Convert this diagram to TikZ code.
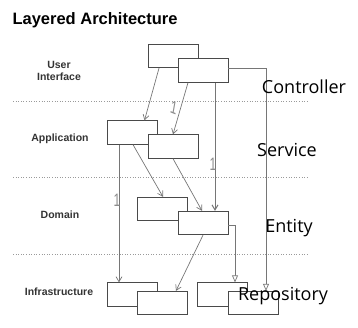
\documentclass[tikz,border=0pt]{standalone}
\usepackage{fontspec}
\setmainfont{Liberation Sans}
\newfontfamily\handfont{Open Sans}
\usepackage{tikz}
\usetikzlibrary{calc,arrows.meta,positioning}
\definecolor{la-box}{HTML}{4A4A4A}
\definecolor{la-line}{HTML}{767676}
\definecolor{la-dots}{HTML}{9A9A9A}

\tikzset{
    classbox/.style={draw=la-box, fill=white, line width=0.8pt, minimum width=50pt, minimum height=23.5pt, inner sep=0pt},
    layername/.style={font=\bfseries\fontsize{10.5}{12}\selectfont, text=black!80, align=center},
    handlabel/.style={font=\handfont\fontsize{18}{19}\selectfont, text=black},
    mult/.style={font=\fontsize{12}{12}\selectfont, text=black!45, yscale=1.5},
    uses/.style={draw=la-line, line width=0.7pt, -{Straight Barb[length=5pt,width=6pt]}},
    realizes/.style={draw=la-line, line width=0.7pt, -{Triangle[open,length=7pt,width=6pt,fill=white]}},
    layerline/.style={draw=la-dots, line width=0.6pt, dotted}
}

\begin{document}
\begin{tikzpicture}[x=1pt, y=-1pt]
    \useasboundingbox (0,0) rectangle (358,328);
    \node[anchor=west, font=\bfseries\fontsize{16.5}{18}\selectfont] (title) at (9,20) {Layered Architecture};

    % layer separators
    \foreach \ly in {101,177,254}
        \draw[layerline] (13,\ly) -- (308,\ly);

    % layer names
    \node[layername] (lui) at (59,71) {User\\Interface};
    \node[layername] (lapp) at (60,139) {Application};
    \node[layername] (ldom) at (60,215) {Domain};
    \node[layername] (linf) at (59,292) {Infrastructure};

    % classes
    \node[classbox] (ui1) at (173,56) {};
    \node[classbox] (ui2) at (203,70.5) {};
    \node[classbox] (app1) at (132.5,132.5) {};
    \node[classbox] (app2) at (173,146.5) {};
    \node[classbox] (dom1) at (162,209) {};
    \node[classbox] (dom2) at (203,223) {};
    \node[classbox] (inf1) at (132.5,294.5) {};
    \node[classbox] (inf2) at (162,303) {};
    \node[classbox] (inf3) at (222.5,294.5) {};
    \node[classbox] (inf4) at (253,303) {};

    % dependencies
    \draw[uses] ([xshift=-14pt]ui1.south) -- ([xshift=12pt]app1.north);
    \draw[uses] ([xshift=-15pt]ui2.south) -- (app2.north);
    \draw[uses, line width=1pt] ([xshift=12pt]ui2.south) -- ([xshift=12pt]dom2.north);
    \draw[realizes] ([yshift=2.5pt]ui2.east) -| ([xshift=13pt]inf4.north);
    \draw[uses] ([xshift=0.5pt]app1.south) -- ([xshift=1pt]dom1.north);
    \draw[uses] (app2.south) -- ([xshift=-1pt]dom2.north);
    \draw[uses] ([xshift=-13.5pt]app1.south) -- ([xshift=-13.5pt]inf1.north);
    \draw[realizes] ([yshift=-2pt]dom2.east) -| ([xshift=12.5pt]inf3.north);
    \draw[uses] (dom2.south) -- ([xshift=14pt]inf2.north);

    % multiplicities
    \node[mult, rotate=-15] (m1) at (174,108) {1};
    \node[mult] (m2) at (213,164) {1};
    \node[mult] (m3) at (117,200) {1};

    % handwritten notes
    \node[handlabel] (ctrl) at (304,87) {Controller};
    \node[handlabel] (serv) at (287,150) {Service};
    \node[handlabel] (ent) at (289,228) {Entity};
    \node[handlabel] (repo) at (283,296) {Repository};
\end{tikzpicture}
\end{document}
